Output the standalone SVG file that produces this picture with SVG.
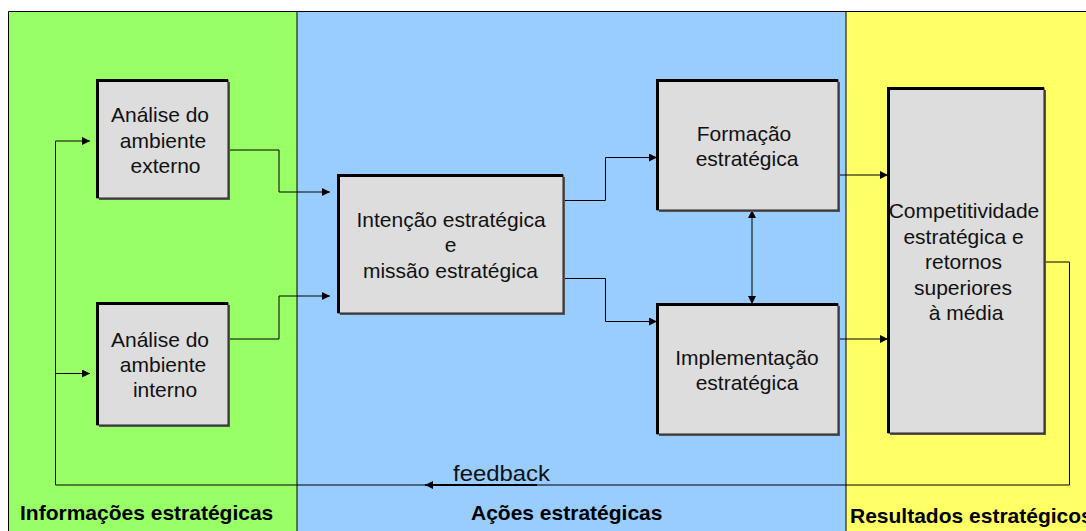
<svg xmlns="http://www.w3.org/2000/svg" width="1086" height="531" viewBox="0 0 1086 531">
  <style>
    .lbl { font-family: "Liberation Sans", Arial, sans-serif; font-size: 21px; fill: #111; text-anchor: middle; }
    .band { font-family: "Liberation Sans", Arial, sans-serif; font-size: 21px; font-weight: bold; fill: #000; }
    .shadow { fill: #555; }
    .box { fill: #dddddd; stroke: #222; stroke-width: 1; }
    .edge { stroke: #000; stroke-width: 3; fill: none; }
    .wire { stroke: #000; stroke-width: 1; fill: none; }
  </style>
  <defs>
    <marker id="head" viewBox="0 0 10 10" refX="10" refY="5" markerWidth="9" markerHeight="8" markerUnits="userSpaceOnUse" orient="auto-start-reverse">
      <path d="M0,0 L10,5 L0,10 Z" fill="#000"/>
    </marker>
  </defs>

  <!-- background bands -->
  <g id="bands">
    <rect x="0" y="0" width="1086" height="531" fill="#ffffff"/>
    <rect x="8.5" y="11.5" width="288.5" height="520" fill="#99ff66"/>
    <rect x="297" y="11.5" width="549" height="520" fill="#99ccff"/>
    <rect x="846" y="11.5" width="240" height="520" fill="#ffff66"/>
    <path d="M8.5,531 V11.5 H1086" stroke="#000" stroke-width="1" fill="none"/>
    <line x1="297" y1="11.5" x2="297" y2="531" stroke="#000" stroke-width="1"/>
    <line x1="846" y1="11.5" x2="846" y2="531" stroke="#000" stroke-width="1"/>
    <text class="band" x="20" y="520">Informações estratégicas</text>
    <text class="band" x="471" y="520">Ações estratégicas</text>
    <text class="band" x="850" y="523">Resultados estratégicos</text>
  </g>

  <!-- connectors -->
  <g id="connectors">
    <polyline class="wire" points="228,150 279,150 279,192 330,192" marker-end="url(#head)"/>
    <polyline class="wire" points="228,339 279,339 279,296 330,296" marker-end="url(#head)"/>
    <polyline class="wire" points="563,200.5 605.5,200.5 605.5,157.5 657,157.5" marker-end="url(#head)"/>
    <polyline class="wire" points="563,278.5 605.5,278.5 605.5,321.5 657,321.5" marker-end="url(#head)"/>
    <line class="wire" x1="752" y1="210" x2="752" y2="304" marker-start="url(#head)" marker-end="url(#head)"/>
    <line class="wire" x1="838" y1="175" x2="888" y2="175" marker-end="url(#head)"/>
    <line class="wire" x1="838" y1="339" x2="888" y2="339" marker-end="url(#head)"/>
    <!-- feedback loop -->
    <polyline class="wire" points="1044,262 1069.5,262 1069.5,485 55.5,485 55.5,141"/>
    <line x1="537" y1="485" x2="425" y2="485" stroke="#000" stroke-width="2" marker-end="url(#head)"/>
    <line class="wire" x1="55.5" y1="141" x2="90" y2="141" marker-end="url(#head)"/>
    <line class="wire" x1="55.5" y1="373.5" x2="90" y2="373.5" marker-end="url(#head)"/>
    <text x="453" y="481" font-family="Liberation Sans, Arial, sans-serif" font-size="22" fill="#111" textLength="97" lengthAdjust="spacingAndGlyphs">feedback</text>
  </g>

  <g id="analise-externo">
    <rect class="shadow" x="99" y="82" width="131" height="118"/>
    <rect class="box" x="97" y="80" width="131" height="118"/>
    <path class="edge" d="M97.5,198 V80.5 H228"/>
    <text class="lbl" x="160" y="122">Análise do</text>
    <text class="lbl" x="163" y="147.5">ambiente</text>
    <text class="lbl" x="165.5" y="172.5">externo</text>
  </g>

  <g id="analise-interno">
    <rect class="shadow" x="99" y="305" width="131" height="122"/>
    <rect class="box" x="97" y="303" width="131" height="122"/>
    <path class="edge" d="M97.5,425 V303.5 H228"/>
    <text class="lbl" x="160" y="346.5">Análise do</text>
    <text class="lbl" x="163" y="371.5">ambiente</text>
    <text class="lbl" x="165" y="397">interno</text>
  </g>

  <g id="intencao">
    <rect class="shadow" x="340" y="177" width="225" height="138"/>
    <rect class="box" x="338" y="175" width="225" height="138"/>
    <path class="edge" d="M338.5,313 V175.5 H563"/>
    <text class="lbl" x="451" y="226.5">Intenção estratégica</text>
    <text class="lbl" x="450.5" y="252">e</text>
    <text class="lbl" x="450.5" y="278">missão estratégica</text>
  </g>

  <g id="formacao">
    <rect class="shadow" x="659" y="82" width="181" height="130"/>
    <rect class="box" x="657" y="80" width="181" height="130"/>
    <path class="edge" d="M657.5,210 V80.5 H838"/>
    <text class="lbl" x="744" y="141">Formação</text>
    <text class="lbl" x="747" y="166">estratégica</text>
  </g>

  <g id="implementacao">
    <rect class="shadow" x="659" y="306" width="181" height="130"/>
    <rect class="box" x="657" y="304" width="181" height="130"/>
    <path class="edge" d="M657.5,434 V304.5 H838"/>
    <text class="lbl" x="747" y="365">Implementação</text>
    <text class="lbl" x="747" y="390">estratégica</text>
  </g>

  <g id="competitividade">
    <rect class="shadow" x="890" y="90" width="156" height="345"/>
    <rect class="box" x="888" y="88" width="156" height="345"/>
    <path class="edge" d="M888.5,433 V88.5 H1044"/>
    <text class="lbl" x="964" y="217.5">Competitividade</text>
    <text class="lbl" x="963.5" y="244">estratégica e</text>
    <text class="lbl" x="963.5" y="268.5">retornos</text>
    <text class="lbl" x="963" y="294.5">superiores</text>
    <text class="lbl" x="966" y="320">à média</text>
  </g>
</svg>
